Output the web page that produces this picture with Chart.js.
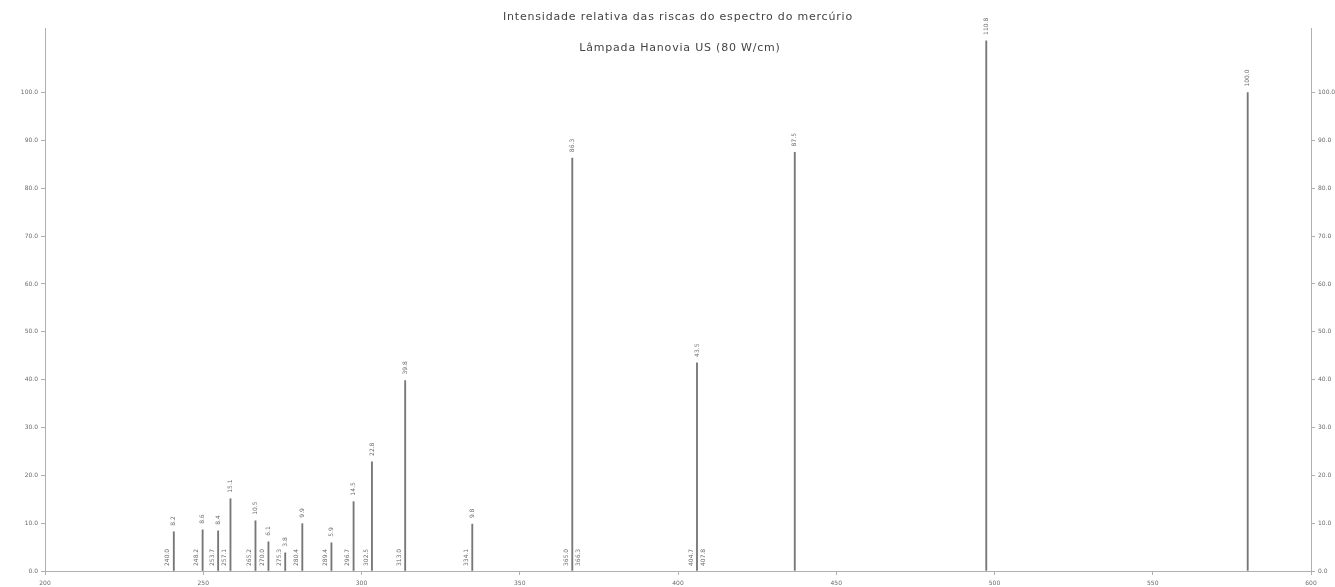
<!DOCTYPE html>
<html>
<head>
<meta charset="utf-8">
<script src="https://cdn.jsdelivr.net/npm/chart.js@4/dist/chart.umd.min.js"></script>
<style>
    body { margin: 0; background: #fff; }
    #wrap { width: 1335px; height: 587px; position: relative; }
</style>
</head>
<body>
<div id="wrap"><canvas id="spectrum"></canvas></div>
<script>
const wavelengths = [240.7, 249.8, 254.7, 258.6, 266.5, 270.6, 275.9, 281.3, 290.5, 297.5, 303.3, 313.8, 335.0, 366.6, 406.0, 436.9, 497.4, 580.0];
const intensities = [8.2, 8.6, 8.4, 15.1, 10.5, 6.1, 3.8, 9.9, 5.9, 14.5, 22.8, 39.8, 9.8, 86.3, 43.5, 87.5, 110.8, 100.0];
// Wavelength labels written at the foot of each line (left side / right side)
const waveLabels = ['240.0', '248.2', '253.7', '257.1', '265.2', '270.0', '275.3', '280.4', '289.4', '296.7', '302.5', '313.0', '334.1', '365.0', '404.7', '', '', ''];
const waveLabelsRight = ['', '', '', '', '', '', '', '', '', '', '', '', '', '366.3', '407.8', '', '', ''];
const xTicks = [200, 250, 300, 350, 400, 450, 500, 550, 600];
const yTicks = [0, 10, 20, 30, 40, 50, 60, 70, 80, 90, 100];

const titleText = 'Intensidade relativa das riscas do espectro do mercúrio';
const subtitleText = 'Lâmpada Hanovia US (80 W/cm)';

const textColor = '#6a6a6a';
const axisColor = '#b0b0b0';

// Draw the two title lines inside the plot, like on the original sheet
const titlePlugin = {
    id: 'sheetTitle',
    afterDraw(chart) {
        const ctx = chart.ctx;
        ctx.save();
        ctx.fillStyle = '#444';
        ctx.textAlign = 'center';
        ctx.textBaseline = 'middle';
        ctx.font = '11px "DejaVu Sans"';
        ctx.letterSpacing = '0.8px';
        ctx.fillText(titleText, 678, 17);
        ctx.fillText(subtitleText, 680, 48);
        ctx.restore();
    }
};

// Vertical value labels above each line and wavelength labels at its foot
const lineLabels = {
    id: 'lineLabels',
    afterDatasetsDraw(chart) {
        const ctx = chart.ctx;
        const base = chart.scales.y.getPixelForValue(0);
        ctx.save();
        ctx.fillStyle = textColor;
        ctx.font = '6px "DejaVu Sans"';
        ctx.textBaseline = 'middle';
        ctx.textAlign = 'left';
        chart.getDatasetMeta(0).data.forEach((bar, i) => {
            const put = (txt, x, y) => {
                if (!txt) return;
                ctx.save();
                ctx.translate(x, y);
                ctx.rotate(-Math.PI / 2);
                ctx.fillText(txt, 0, 0);
                ctx.restore();
            };
            put(intensities[i].toFixed(1), bar.x, bar.y - 6);
            put(waveLabels[i], bar.x - 6, base - 5);
            put(waveLabelsRight[i], bar.x + 6, base - 5);
        });
        ctx.restore();
    }
};

const yAxis = (position, width) => ({
    type: 'linear',
    position,
    min: 0,
    max: 113.5,
    afterBuildTicks: (s) => { s.ticks = yTicks.map(v => ({ value: v })); },
    afterFit: (s) => { s.width = width; },
    ticks: {
        color: textColor,
        font: { size: 6, family: 'DejaVu Sans' },
        padding: 3,
        callback: (v) => v.toFixed(1)
    },
    grid: { drawOnChartArea: false, tickLength: 4, color: axisColor },
    border: { color: axisColor }
});

new Chart(document.getElementById('spectrum'), {
    type: 'bar',
    data: {
        datasets: [{
            data: wavelengths.map((w, i) => ({ x: w, y: intensities[i] })),
            backgroundColor: '#777',
            barThickness: 1.2
        }]
    },
    options: {
        responsive: true,
        maintainAspectRatio: false,
        animation: false,
        layout: { padding: { top: 28, left: 0, right: 0, bottom: 0 } },
        plugins: {
            legend: { display: false },
            tooltip: { enabled: false }
        },
        scales: {
            x: {
                type: 'linear',
                offset: false,
                min: 200,
                max: 600,
                afterBuildTicks: (s) => { s.ticks = xTicks.map(v => ({ value: v })); },
                afterFit: (s) => { s.height = 16; },
                ticks: {
                    color: textColor,
                    font: { size: 6, family: 'DejaVu Sans' },
                    padding: 5,
                    maxRotation: 0
                },
                grid: { drawOnChartArea: false, offset: false, tickLength: 4, color: axisColor },
                border: { color: axisColor }
            },
            y: yAxis('left', 45),
            y2: yAxis('right', 24)
        }
    },
    plugins: [titlePlugin, lineLabels]
});
</script>
</body>
</html>
